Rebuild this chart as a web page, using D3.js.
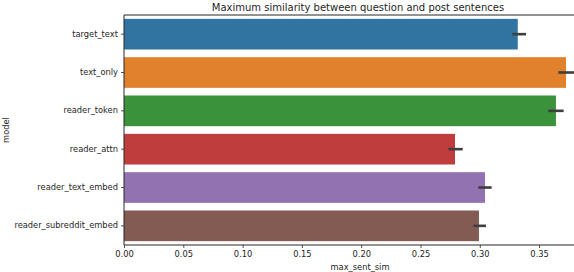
<!DOCTYPE html>
<html>
<head>
<meta charset="utf-8">
<script src="https://cdn.jsdelivr.net/npm/d3@7"></script>
<style>
  body { margin: 0; background: #fff; }
  svg { display: block; font-family: "DejaVu Sans", sans-serif; }
</style>
</head>
<body>
<div id="chart"></div>
<script>
// Chart data
const models = ['target_text', 'text_only', 'reader_token', 'reader_attn', 'reader_text_embed', 'reader_subreddit_embed'];
const means = [0.332, 0.3727, 0.3642, 0.2791, 0.3044, 0.2993];
const ciLow = [0.3275, 0.3662, 0.3578, 0.2735, 0.2987, 0.2945];
const ciHigh = [0.3390, 0.3794, 0.3707, 0.2856, 0.3100, 0.3052];
const colors = ['#3274a1', '#e1812c', '#3a923a', '#c03d3e', '#9372b2', '#845b53'];
const xTicks = [0, 0.05, 0.1, 0.15, 0.2, 0.25, 0.3, 0.35];

function createChart() {
    const width = 574;
    const height = 272;
    const margin = { left: 124, top: 15, bottom: 27 };

    const rows = models.map((m, i) => ({
        model: m, mean: means[i], lo: ciLow[i], hi: ciHigh[i], color: colors[i]
    }));

    const svg = d3.select('#chart')
        .append('svg')
        .attr('width', width)
        .attr('height', height);

    // x axis runs past the right edge of the picture (cropped)
    const xScale = d3.scaleLinear()
        .domain([0, 0.4])
        .range([margin.left, margin.left + 0.4 * 1186]);

    const yScale = d3.scaleBand()
        .domain(models)
        .range([margin.top, height - margin.bottom])
        .padding(0.2)
        .paddingOuter(0.1);

    // bars
    svg.append('g')
        .selectAll('rect')
        .data(rows)
        .join('rect')
        .attr('x', xScale(0))
        .attr('y', d => yScale(d.model))
        .attr('width', d => xScale(d.mean) - xScale(0))
        .attr('height', yScale.bandwidth())
        .attr('fill', d => d.color);

    // error bars
    svg.append('g')
        .selectAll('line')
        .data(rows)
        .join('line')
        .attr('x1', d => xScale(d.lo))
        .attr('x2', d => xScale(d.hi))
        .attr('y1', d => yScale(d.model) + yScale.bandwidth() / 2)
        .attr('y2', d => yScale(d.model) + yScale.bandwidth() / 2)
        .attr('stroke', '#3f3f3f')
        .attr('stroke-width', 2.6);

    // axes
    const xAxis = d3.axisBottom(xScale)
        .tickValues(xTicks)
        .tickFormat(d3.format('.2f'))
        .tickSize(3)
        .tickPadding(3);

    const gx = svg.append('g')
        .attr('transform', `translate(0,${height - margin.bottom})`)
        .call(xAxis);

    const yAxis = d3.axisLeft(yScale).tickSize(3).tickPadding(3);

    const gy = svg.append('g')
        .attr('transform', `translate(${margin.left},0)`)
        .call(yAxis);

    [gx, gy].forEach(g => {
        g.selectAll('text').attr('font-size', 8.3).attr('fill', '#262626').attr('font-family', '"DejaVu Sans", sans-serif');
        g.selectAll('line').attr('stroke', '#262626').attr('stroke-width', 0.8);
        g.select('.domain').remove();
    });

    // spines
    svg.append('line')
        .attr('x1', margin.left).attr('x2', width)
        .attr('y1', height - margin.bottom).attr('y2', height - margin.bottom)
        .attr('stroke', '#262626').attr('stroke-width', 1);
    svg.append('line')
        .attr('x1', margin.left).attr('x2', width)
        .attr('y1', margin.top).attr('y2', margin.top)
        .attr('stroke', '#262626').attr('stroke-width', 1);
    svg.append('line')
        .attr('x1', margin.left).attr('x2', margin.left)
        .attr('y1', margin.top).attr('y2', height - margin.bottom)
        .attr('stroke', '#262626').attr('stroke-width', 1);

    // labels
    svg.append('text')
        .attr('x', 358)
        .attr('y', 11)
        .attr('text-anchor', 'middle')
        .attr('font-size', 10)
        .attr('fill', '#262626')
        .text('Maximum similarity between question and post sentences');

    svg.append('text')
        .attr('x', 360)
        .attr('y', 270)
        .attr('text-anchor', 'middle')
        .attr('font-size', 8.3)
        .attr('fill', '#262626')
        .text('max_sent_sim');

    svg.append('text')
        .attr('transform', `translate(9,${(margin.top + height - margin.bottom) / 2}) rotate(-90)`)
        .attr('text-anchor', 'middle')
        .attr('font-size', 8.3)
        .attr('fill', '#262626')
        .text('model');
}

document.addEventListener('DOMContentLoaded', createChart);
</script>
</body>
</html>
